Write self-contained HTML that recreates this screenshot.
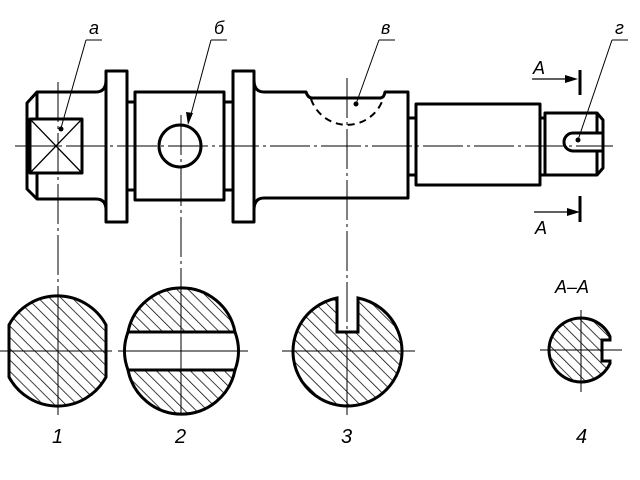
<!DOCTYPE html>
<html><head><meta charset="utf-8"><style>html,body{margin:0;padding:0;background:#fff}svg{display:block}
text{font-family:"Liberation Sans",sans-serif;font-style:italic;fill:#000}</style></head>
<body>
<svg width="640" height="480" viewBox="0 0 640 480" xmlns="http://www.w3.org/2000/svg">
<defs>
<pattern id="h" patternUnits="userSpaceOnUse" width="8" height="8" patternTransform="rotate(-45)">
<line x1="0" y1="0" x2="0" y2="8" stroke="#000" stroke-width="1.5"/>
</pattern>
</defs>
<g fill="none" stroke="#000" stroke-width="3" stroke-linejoin="round">
<path d="M106,80 Q106,92 96,92 L37,92 L27,103 L27,189 L37,199 L96,199 Q106,199 106,210"/>
<path d="M37,92 L37,119 M37,173 L37,199"/>
<rect x="30" y="119" width="52" height="54"/>
<rect x="106" y="71" width="21" height="151"/>
<path d="M127,102 L135,102 M127,190 L135,190"/>
<rect x="135" y="92" width="89" height="108"/>
<path d="M224,102 L233,102 M224,190 L233,190"/>
<circle cx="180" cy="146" r="21"/>
<rect x="233" y="71" width="21" height="151"/>
<path d="M254,80 Q254,92 264,92 L306,92 Q308,98 312,98 L380,98 Q384,98 385,92 L408,92 L408,198 L264,198 Q254,198 254,210"/>
<path d="M408,118 L416,118 M408,175 L416,175"/>
<rect x="416" y="104" width="124" height="81"/>
<path d="M540,118 L545,118 M540,175 L545,175"/>
<path d="M545,113 L597,113 L603,120 L603,168 L597,175 L545,175 Z"/>
<path d="M597,113 L597,133 M597,151 L597,175"/>
<path d="M603,133 L573,133 A9,9 0 0 0 573,151 L603,151"/>
<path d="M580,70 L580,95 M580,196 L580,222"/>
</g>
<path d="M30,119 L82,173 M82,119 L30,173" stroke="#000" stroke-width="1.3" fill="none"/>
<path d="M311,99 A38,38 0 0 0 383,99" fill="none" stroke="#000" stroke-width="2" stroke-dasharray="7,5"/>
<g stroke="#000" stroke-width="1" fill="none">
<path d="M15,146 L613,146" stroke-dasharray="40,4,3,4"/>
<path d="M58,82 L58,410" stroke-dasharray="40,4,3,4"/>
<path d="M181,115 L181,410" stroke-dasharray="40,4,3,4"/>
<path d="M347,78 L347,410" stroke-dasharray="40,4,3,4"/>
<path d="M86,40 L102,40 M86,40 L61,128"/>
<path d="M211,40 L227,40 M211,40 L190,118"/>
<path d="M379,40 L395,40 M379,40 L356,104"/>
<path d="M612,40 L628,40 M612,40 L578,140"/>
<path d="M532,79 L566,79 M534,212 L568,212" stroke-width="1.3"/>
</g>
<g fill="#000">
<circle cx="61" cy="129" r="2.5"/><circle cx="356" cy="104" r="2.5"/><circle cx="578" cy="140" r="2.5"/>
<path d="M188,125 L186,112 L193,113 Z"/>
<path d="M578,79 L565,75 L565,83 Z"/><path d="M580,212 L567,208 L567,216 Z"/>
</g>
<g stroke="#000" stroke-width="3" fill="url(#h)">
<path d="M9,325 A55,55 0 0 1 106,325 L106,377 A55,55 0 0 1 9,377 Z"/>
<path d="M128,332 L235,332 A54.5,54.5 0 0 0 128,332 Z"/>
<path d="M128,370 L235,370 A54.5,54.5 0 0 1 128,370 Z"/>
<path d="M337,298 L337,332 L358,332 L358,298 A54.5,54.5 0 1 1 337,298 Z"/>
<path d="M610,340 L602,340 L602,361 L610,361 L610,363.5 A32,32 0 1 1 610,336.5 Z"/>
</g>
<path d="M128,332 A54.5,54.5 0 0 0 128,370 M235,332 A54.5,54.5 0 0 1 235,370" fill="none" stroke="#000" stroke-width="3"/>
<g stroke="#000" stroke-width="1" fill="none">
<path d="M58,295 L58,415 M0,351 L112,351 M181,295 L181,415 M118,351 L248,351 M282,351 L415,351 M347,332 L347,415 M540,350 L622,350 M581,310 L581,392"/>
</g>
<g font-size="18">
<text x="89" y="34">а</text><text x="214" y="34">б</text><text x="381" y="34">в</text><text x="615" y="34">г</text>
<text x="533" y="74">A</text><text x="535" y="234">A</text>
<text x="555" y="293">A–A</text>
<text x="52" y="443" font-size="20">1</text><text x="175" y="443" font-size="20">2</text><text x="341" y="443" font-size="20">3</text><text x="576" y="443" font-size="20">4</text>
</g>
</svg>
</body></html>
